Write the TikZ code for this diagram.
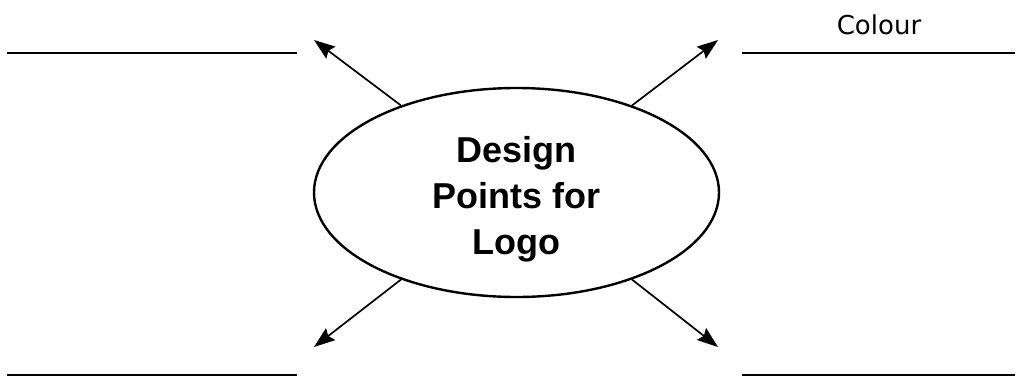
\documentclass[tikz,border=0pt]{standalone}
\usepackage{fontspec}
\setmainfont{Liberation Sans}
\newfontfamily\labelfont{DejaVu Sans}
\usetikzlibrary{shapes.geometric,arrows.meta}
\begin{document}
\begin{tikzpicture}[x=1pt,y=-1pt,
  blank/.style={line width=2.4pt},
  pointer/.style={line width=1.7pt,-{Stealth[length=21pt,width=15pt,inset=3pt]}},
  hub/.style={ellipse,draw,line width=2.4pt,minimum width=405pt,minimum height=209pt,inner sep=0pt},
  hubtext/.style={align=center,inner sep=0pt,font=\fontsize{36}{46}\selectfont\bfseries}]
\useasboundingbox (0,0) rectangle (1023,378);
\node[hub] (e) at (516.5,192.5) {};
\node[hubtext,yshift=-7pt] (t) at (e.center) {Design\\Points for\\Logo};
\coordinate (tl) at (314,40);
\coordinate (tr) at (718,40);
\coordinate (bl) at (314,347);
\coordinate (br) at (718,347);
\draw[pointer] (e.143) -- (tl);
\draw[pointer] (e.37) -- (tr);
\draw[pointer] (e.217) -- (bl);
\draw[pointer] (e.323) -- (br);
\coordinate (l1a) at (7,53); \coordinate (l1b) at (297,53);
\coordinate (l2a) at (742,53); \coordinate (l2b) at (1015,53);
\coordinate (l3a) at (7,375); \coordinate (l3b) at (297,375);
\coordinate (l4a) at (742,375); \coordinate (l4b) at (1015,375);
\draw[blank] (l1a) -- (l1b);
\draw[blank] (l2a) -- (l2b);
\draw[blank] (l3a) -- (l3b);
\draw[blank] (l4a) -- (l4b);
\node[font=\labelfont\fontsize{26}{30}\selectfont,anchor=base] (c) at (879,34) {Colour};
\end{tikzpicture}
\end{document}
